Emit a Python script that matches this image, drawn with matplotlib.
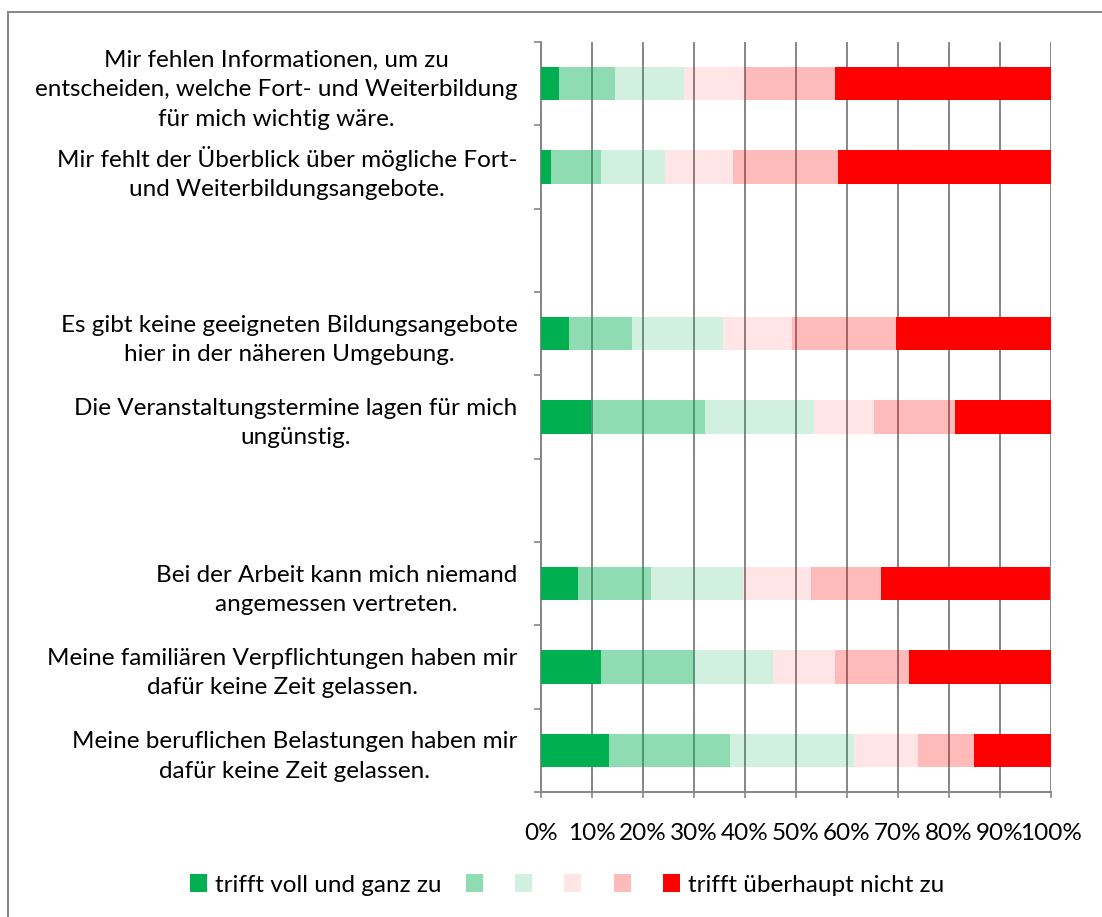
import numpy as np
import matplotlib
matplotlib.use('Agg')
import matplotlib.pyplot as plt
from matplotlib.lines import Line2D

plt.rcParams['font.family'] = ['Lato', 'DejaVu Sans']

# data (top to bottom, empty strings are blank category slots)
categories = [
    'Mir fehlen Informationen, um zu\nentscheiden, welche Fort- und Weiterbildung\nfür mich wichtig wäre.',
    'Mir fehlt der Überblick über mögliche Fort-\nund Weiterbildungsangebote.',
    '',
    'Es gibt keine geeigneten Bildungsangebote\nhier in der näheren Umgebung.',
    'Die Veranstaltungstermine lagen für mich\nungünstig.',
    '',
    'Bei der Arbeit kann mich niemand\nangemessen vertreten.',
    'Meine familiären Verpflichtungen haben mir\ndafür keine Zeit gelassen.',
    'Meine beruflichen Belastungen haben mir\ndafür keine Zeit gelassen.',
]
level_1 = [3.5, 2.0, 0, 5.5, 9.9, 0, 7.2, 11.7, 13.3]
level_2 = [11.0, 9.8, 0, 12.3, 22.3, 0, 14.4, 18.3, 23.8]
level_3 = [13.6, 12.6, 0, 17.8, 21.4, 0, 18.0, 15.5, 24.2]
level_4 = [11.9, 13.3, 0, 13.6, 11.7, 0, 13.3, 12.2, 12.7]
level_5 = [17.6, 20.6, 0, 20.5, 15.9, 0, 13.8, 14.4, 10.9]
level_6 = [42.4, 41.8, 0, 30.3, 18.9, 0, 33.2, 27.9, 15.2]

series_labels = ['trifft voll und ganz zu', '', '', '', '',
                 'trifft überhaupt nicht zu']
x_ticks = [0, 10, 20, 30, 40, 50, 60, 70, 80, 90, 100]
x_tick_labels = ['0%', '10%', '20%', '30%', '40%', '50%', '60%', '70%',
                 '80%', '90%', '100%']

green = (0 / 255, 176 / 255, 80 / 255)
red = (1.0, 0.0, 0.0)
colors = [green + (1.0,), green + (0.44,), green + (0.18,),
          red + (0.10,), red + (0.27,), red + (1.0,)]

grid_color = '#868686'
font_size = 17.5

fig = plt.figure(figsize=(11.02, 9.17), dpi=100)
ax = fig.add_axes([541 / 1102, 1 - 792 / 917, 510 / 1102, 750 / 917])

series = [level_1, level_2, level_3, level_4, level_5, level_6]
y = np.arange(len(categories))
left = np.zeros(len(categories))
bars = []
for values, color, label in zip(series, colors, series_labels):
    values = np.array(values, dtype=float)
    b = ax.barh(y, values, left=left, height=0.4, color=color,
                label=label, zorder=3, linewidth=0)
    bars.append(b)
    left = left + values

ax.set_xlim(0, 100)
ax.set_ylim(len(categories) - 0.5, -0.5)

# vertical gridlines
ax.set_xticks(x_ticks)
ax.set_xticklabels(x_tick_labels, fontsize=font_size)
ax.xaxis.grid(True, color=grid_color, linewidth=1.4, zorder=0)
ax.set_axisbelow(True)
ax.tick_params(axis='x', direction='out', length=4, width=1.2,
               color=grid_color, pad=18)

# category tick marks between categories, labels at centers
ax.set_yticks(np.arange(-0.5, len(categories), 1.0))
ax.set_yticklabels([])
ax.set_yticks(y, minor=True)
ax.set_yticklabels(categories, minor=True, fontsize=font_size,
                   multialignment='center', linespacing=1.5)
ax.tick_params(axis='y', which='major', direction='out', length=5,
               width=1.2, color=grid_color)
ax.tick_params(axis='y', which='minor', length=0, pad=17)

for side in ['top', 'right']:
    ax.spines[side].set_visible(False)
for side in ['left', 'bottom']:
    ax.spines[side].set_color(grid_color)
    ax.spines[side].set_linewidth(1.4)

# outer chart border (runs off the image on right and bottom)
fig.add_artist(Line2D([8 / 1102, 1.0], [1 - 12 / 917, 1 - 12 / 917],
                      color=grid_color, linewidth=1.4))
fig.add_artist(Line2D([8 / 1102, 8 / 1102], [1 - 12 / 917, 0.0],
                      color=grid_color, linewidth=1.4))

fig.legend(handles=bars, labels=series_labels, loc='center',
           bbox_to_anchor=(567 / 1102, 1 - 885 / 917), ncol=6,
           frameon=False, fontsize=font_size, handlelength=0.7,
           handleheight=0.7, handletextpad=0.33, columnspacing=1.0)

fig.savefig('out.png', dpi=100)
